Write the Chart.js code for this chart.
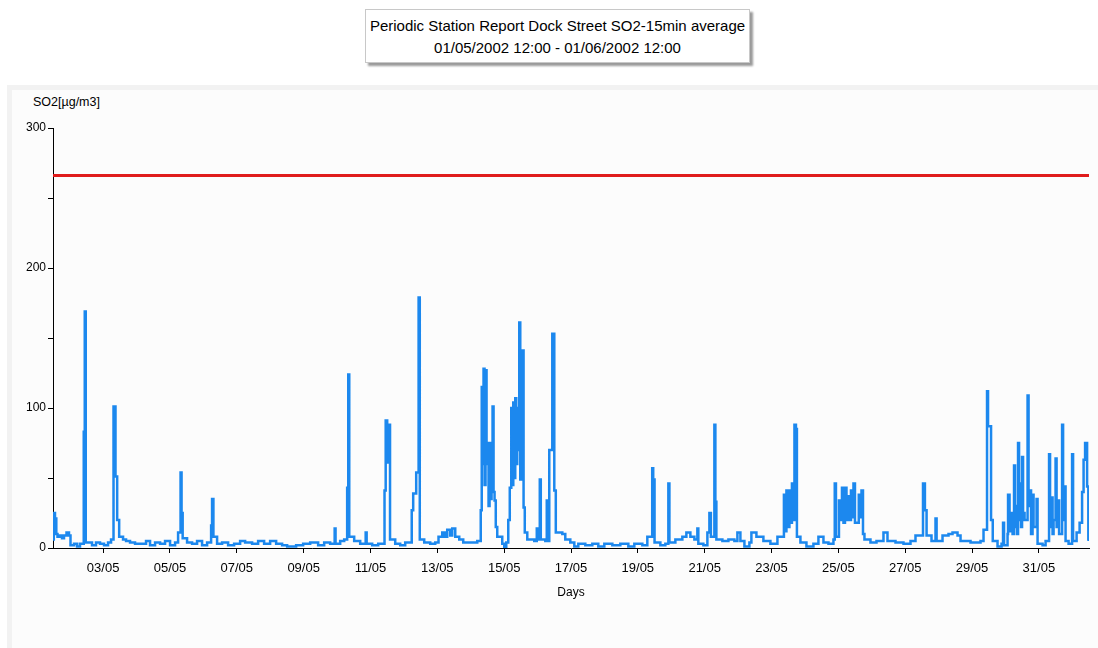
<!DOCTYPE html>
<html>
<head>
<meta charset="utf-8">
<script src="https://cdn.jsdelivr.net/npm/chart.js@4/dist/chart.umd.min.js"></script>
<style>
    html, body { margin: 0; padding: 0; background: #fff; }
    body { width: 1098px; height: 648px; position: relative; overflow: hidden; font-family: "Liberation Sans", Arial, sans-serif; }
    #frame { position: absolute; left: 7px; top: 85px; right: 0; bottom: 0; background: #f2f2f2; }
    #panel { position: absolute; left: 12px; top: 90px; right: 0; bottom: 0; background: #fcfcfc; }
    #chartTitle {
        position: absolute; left: 365px; top: 9px; width: 383px; height: 47px;
        padding-top: 5px; border: 1px solid #c8c8c8; background: #fff;
        box-shadow: 3px 3px 2px #9a9a9a;
        text-align: center; font-size: 15px; line-height: 22px; color: #000;
    }
    #yTitle { position: absolute; left: 33px; top: 95px; font-size: 12.5px; color: #000; }
    #priceChart { position: absolute; left: 0; top: 0; }
</style>
</head>
<body>
<div id="frame"></div>
<div id="panel"></div>
<div id="chartTitle">Periodic Station Report Dock Street SO2-15min average<br>01/05/2002 12:00 - 01/06/2002 12:00</div>
<div id="yTitle">SO2[µg/m3]</div>
<canvas id="priceChart" width="1098" height="648"></canvas>
<script>
// time axis in days of May (1.5 = 01/05 12:00, 32.5 = 01/06 12:00)
const days = [
    1.500, 1.524, 1.560, 1.599, 1.635, 1.710, 1.769, 1.829, 1.904, 1.979,
    2.024, 2.129, 2.219, 2.308, 2.420, 2.450, 2.480, 2.668, 2.787, 2.907,
    3.027, 3.147, 3.237, 3.311, 3.370, 3.420, 3.480, 3.596, 3.686, 3.805,
    3.955, 4.105, 4.284, 4.404, 4.554, 4.704, 4.853, 5.003, 5.153, 5.243,
    5.317, 5.347, 5.380, 5.512, 5.662, 5.811, 5.961, 6.111, 6.231, 6.260,
    6.300, 6.410, 6.560, 6.740, 6.919, 7.099, 7.249, 7.458, 7.638, 7.817,
    7.997, 8.177, 8.356, 8.506, 8.775, 8.985, 9.195, 9.434, 9.614, 9.793,
    9.928, 9.955, 10.093, 10.213, 10.302, 10.335, 10.365, 10.512, 10.692, 10.856,
    10.885, 11.051, 11.231, 11.420, 11.455, 11.500, 11.550, 11.585, 11.740, 11.889,
    12.039, 12.234, 12.278, 12.368, 12.440, 12.475, 12.608, 12.787, 12.937, 13.036,
    13.147, 13.222, 13.296, 13.386, 13.446, 13.536, 13.656, 13.775, 13.985, 14.195,
    14.299, 14.329, 14.353, 14.383, 14.413, 14.443, 14.473, 14.503, 14.533, 14.563,
    14.593, 14.623, 14.653, 14.683, 14.713, 14.749, 14.793, 14.943, 15.003, 15.063,
    15.123, 15.168, 15.213, 15.243, 15.273, 15.303, 15.332, 15.362, 15.392, 15.422,
    15.452, 15.482, 15.527, 15.557, 15.581, 15.617, 15.692, 15.901, 15.976, 16.000,
    16.066, 16.096, 16.231, 16.275, 16.300, 16.350, 16.440, 16.500, 16.545, 16.740,
    16.829, 16.979, 17.099, 17.219, 17.428, 17.638, 17.817, 17.997, 18.237, 18.476,
    18.716, 18.895, 19.135, 19.284, 19.430, 19.460, 19.500, 19.674, 19.823, 19.913,
    19.945, 20.123, 20.332, 20.452, 20.572, 20.692, 20.781, 20.810, 20.961, 21.081,
    21.141, 21.185, 21.290, 21.320, 21.350, 21.530, 21.710, 21.889, 21.979, 22.069,
    22.189, 22.338, 22.398, 22.548, 22.757, 22.967, 23.177, 23.371, 23.416, 23.446,
    23.491, 23.536, 23.581, 23.611, 23.656, 23.686, 23.731, 23.760, 23.865, 24.045,
    24.254, 24.404, 24.554, 24.704, 24.853, 24.892, 24.928, 25.018, 25.063, 25.108,
    25.153, 25.198, 25.243, 25.287, 25.332, 25.377, 25.422, 25.452, 25.497, 25.611,
    25.647, 25.692, 25.737, 25.781, 25.961, 26.141, 26.350, 26.470, 26.710, 26.949,
    27.159, 27.308, 27.533, 27.590, 27.640, 27.787, 27.907, 27.940, 28.117, 28.296,
    28.416, 28.566, 28.656, 28.955, 29.254, 29.344, 29.449, 29.479, 29.569, 29.620,
    29.763, 29.883, 29.928, 29.958, 30.063, 30.078, 30.123, 30.153, 30.213, 30.257,
    30.287, 30.317, 30.347, 30.377, 30.407, 30.437, 30.467, 30.497, 30.527, 30.572,
    30.662, 30.692, 30.737, 30.766, 30.811, 30.841, 30.931, 30.961, 31.111, 31.201,
    31.305, 31.335, 31.380, 31.410, 31.440, 31.500, 31.530, 31.575, 31.605, 31.695,
    31.725, 31.769, 31.799, 31.889, 31.994, 32.024, 32.129, 32.219, 32.293, 32.338,
    32.383, 32.443, 32.480, 32.500
];

// SO2 15-min averages in µg/m3
const so2 = [
    6, 25, 21, 10, 8, 9, 7, 9, 11, 9,
    2, 3, 1, 3, 83, 169, 4, 2, 4, 3,
    2, 4, 6, 101, 51, 20, 8, 6, 5, 4,
    3, 3, 5, 2, 4, 3, 5, 2, 4, 11,
    54, 25, 7, 4, 3, 5, 2, 4, 16, 35,
    8, 3, 4, 2, 3, 5, 4, 3, 5, 3,
    5, 3, 2, 1, 2, 3, 4, 2, 4, 3,
    14, 3, 5, 6, 43, 124, 8, 5, 3, 11,
    3, 2, 3, 41, 91, 61, 88, 6, 3, 2,
    4, 27, 39, 54, 179, 6, 4, 3, 4, 8,
    11, 8, 13, 9, 14, 8, 6, 4, 4, 5,
    27, 115, 60, 128, 45, 127, 60, 75, 30, 75,
    35, 74, 101, 40, 34, 15, 8, 3, 0, 4,
    20, 43, 100, 45, 104, 50, 107, 60, 100, 70,
    161, 49, 80, 141, 29, 11, 6, 5, 14, 6,
    49, 6, 5, 34, 5, 70, 153, 41, 11, 10,
    6, 4, 1, 3, 2, 3, 1, 3, 2, 3,
    1, 3, 2, 8, 57, 49, 4, 2, 3, 46,
    4, 6, 8, 11, 8, 6, 14, 3, 2, 11,
    25, 8, 88, 33, 6, 5, 6, 5, 11, 5,
    1, 4, 11, 8, 5, 3, 8, 38, 12, 41,
    15, 41, 18, 46, 20, 88, 85, 8, 4, 1,
    3, 8, 4, 3, 6, 46, 8, 34, 20, 43,
    18, 43, 20, 37, 20, 41, 22, 46, 18, 38,
    22, 41, 10, 6, 4, 5, 11, 5, 4, 3,
    5, 9, 46, 27, 9, 5, 21, 5, 9, 10,
    11, 9, 5, 4, 5, 13, 112, 87, 20, 5,
    1, 3, 18, 2, 10, 38, 12, 25, 10, 59,
    15, 30, 10, 75, 20, 46, 15, 65, 25, 20,
    109, 30, 41, 10, 38, 15, 35, 3, 2, 5,
    67, 15, 36, 10, 20, 64, 15, 34, 10, 88,
    20, 44, 5, 3, 67, 5, 11, 18, 40, 63,
    75, 44, 6, 5
];

const limitValue = 266;
const tickDays = [3, 5, 7, 9, 11, 13, 15, 17, 19, 21, 23, 25, 27, 29, 31];
const tickLabels = ['03/05', '05/05', '07/05', '09/05', '11/05', '13/05', '15/05', '17/05',
    '19/05', '21/05', '23/05', '25/05', '27/05', '29/05', '31/05'];

Chart.defaults.font.family = '"Liberation Sans", Arial, sans-serif';
Chart.defaults.color = '#000';

let ctx = document.getElementById('priceChart').getContext('2d');
let chart = new Chart(ctx, {
    type: 'line',
    data: {
        datasets: [
            {
                label: 'SO2',
                data: days.map((d, i) => ({ x: d, y: so2[i] })),
                borderColor: '#1c88ee',
                borderWidth: 2.5,
                pointRadius: 0,
                // each value holds until the next reading
                stepped: 'before',
                fill: false
            },
            {
                label: 'Limit',
                data: [{ x: 1.5, y: limitValue }, { x: 32.5, y: limitValue }],
                borderColor: '#e01c1c',
                borderWidth: 3,
                pointRadius: 0,
                fill: false
            }
        ]
    },
    options: {
        responsive: false,
        animation: false,
        layout: { padding: { left: 0, top: 128, right: 9, bottom: 48 } },
        plugins: {
            legend: { display: false },
            tooltip: { enabled: false }
        },
        scales: {
            x: {
                type: 'linear',
                min: 1.5,
                max: 32.5,
                afterBuildTicks: scale => {
                    scale.ticks = tickDays.map(v => ({ value: v }));
                },
                afterFit: scale => { scale.height = 52; },
                ticks: {
                    autoSkip: false,
                    maxRotation: 0,
                    padding: 8,
                    font: { size: 13 },
                    callback: (v, i) => tickLabels[i]
                },
                grid: { drawOnChartArea: false, tickLength: 5, tickColor: '#000' },
                border: { color: '#000', width: 1 },
                title: { display: true, text: 'Days', font: { size: 12 }, padding: 0 }
            },
            y: {
                min: 0,
                max: 300,
                afterFit: scale => { scale.width = 53; },
                ticks: {
                    stepSize: 50,
                    padding: 2,
                    font: { size: 12 },
                    callback: v => (v % 100 === 0 ? v : '')
                },
                grid: { drawOnChartArea: false, tickLength: 5, tickColor: '#000' },
                border: { color: '#000', width: 1 }
            }
        }
    }
});
</script>
</body>
</html>
